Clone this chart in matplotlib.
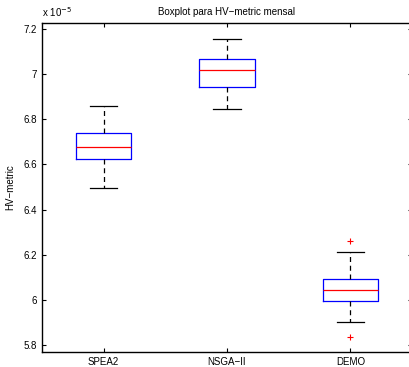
import matplotlib.pyplot as plt

plt.rcParams["font.family"] = ["Liberation Sans", "DejaVu Sans"]

# values in units of 1e-5
labels = ["SPEA2", "NSGA\u2212II", "DEMO"]
whislo = [6.496, 6.845, 5.900]
q1 = [6.626, 6.943, 5.993]
med = [6.677, 7.020, 6.044]
q3 = [6.740, 7.066, 6.094]
whishi = [6.861, 7.156, 6.210]
fliers = [[], [], [6.259, 5.834]]


def main():
    stats = []
    for i in range(len(labels)):
        stats.append(dict(label=labels[i], whislo=whislo[i], q1=q1[i], med=med[i],
                          q3=q3[i], whishi=whishi[i], fliers=fliers[i]))

    fig = plt.figure(figsize=(4.09, 3.67), dpi=100)
    ax = fig.add_axes([0.1027, 0.0409, 0.9046, 0.8965])
    ax.bxp(stats, widths=0.45, showfliers=True,
           boxprops=dict(color="blue", linewidth=0.9),
           medianprops=dict(color="red", linewidth=0.9),
           whiskerprops=dict(color="black", linestyle=(0, (4, 3)), linewidth=0.9),
           capprops=dict(color="black", linewidth=0.9),
           capwidths=0.22,
           flierprops=dict(marker="+", markeredgecolor="red", markersize=5,
                           linestyle="none", markeredgewidth=0.8))

    ax.set_xlim(0.5, 3.5)
    ax.set_ylim(5.769, 7.227)
    ax.set_yticks([5.8, 6.0, 6.2, 6.4, 6.6, 6.8, 7.0, 7.2])
    ax.set_yticklabels(["5.8", "6", "6.2", "6.4", "6.6", "6.8", "7", "7.2"])
    ax.tick_params(direction="in", top=True, right=True, labelsize=7, length=3, width=0.8)
    for s in ax.spines.values():
        s.set_linewidth(1.0)
    ax.set_ylabel("HV\u2212metric", fontsize=7, labelpad=6)
    ax.set_title("Boxplot para HV\u2212metric mensal", fontsize=7, pad=6)
    ax.text(0.0, 1.012, r"x 10$^{-5}$", transform=ax.transAxes, fontsize=7,
            ha="left", va="bottom")

    fig.savefig("out.png", dpi=100)
    plt.close(fig)


if __name__ == "__main__":
    main()
